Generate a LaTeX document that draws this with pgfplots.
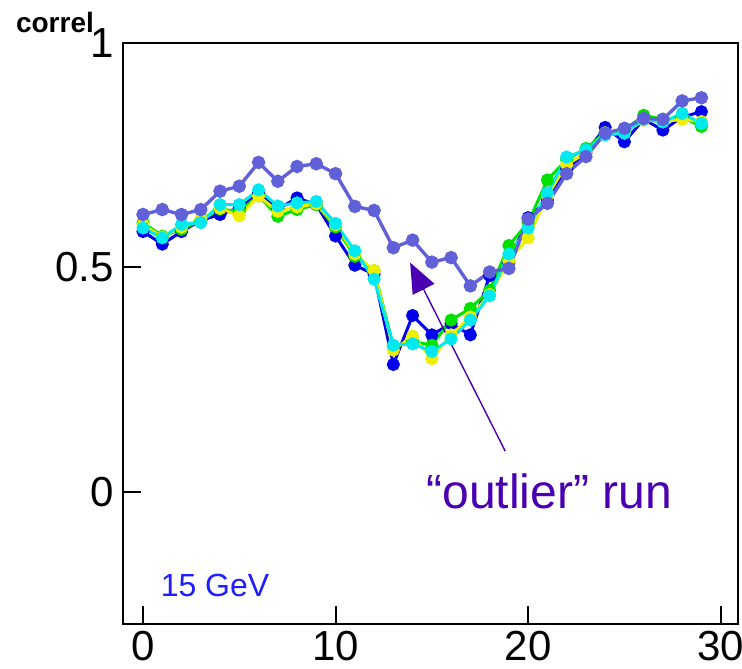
\documentclass[border=0pt]{standalone}
\usepackage{fontspec}
\setmainfont{Liberation Sans}
\usepackage{pgfplots}
\pgfplotsset{compat=1.18}
\usetikzlibrary{arrows.meta}
\definecolor{cblue}{RGB}{0,0,235}
\definecolor{cgreen}{RGB}{0,225,0}
\definecolor{cyellow}{RGB}{238,238,0}
\definecolor{ccyan}{RGB}{0,232,240}
\definecolor{cout}{RGB}{96,96,216}
\definecolor{cpurple}{RGB}{74,0,178}
\definecolor{cgev}{RGB}{30,30,255}
\begin{document}
\begin{tikzpicture}
\useasboundingbox (-61.5pt,-22pt) rectangle (309.5pt,312pt);
\begin{axis}[
  at={(0,0)}, anchor=south west,
  scale only axis, width=307.5pt, height=290.5pt,
  xmin=-1.04, xmax=30.9, ymin=-0.294, ymax=1,
  xtick={0,10,20,30}, ytick={0,0.5,1},
  yticklabels={0,0.5,1},
  tick pos=left, tick align=inside,
  major tick length=9pt,
  minor tick num=0,
  axis line style={line width=1pt},
  every tick/.style={line width=1pt, black},
  /pgf/number format/assume math mode=true,
  ticklabel style={font=\fontsize{21}{21}\selectfont},
  yticklabel style={xshift=-1pt},
  xticklabel style={yshift=0pt},
  clip=false,
  every axis plot/.append style={line width=1.5pt, mark=*, mark size=2.5pt},
]
\addplot[color=cblue, mark options={fill=cblue}] coordinates {
(0,0.580)(1,0.552)(2,0.580)(3,0.605)(4,0.618)(5,0.633)(6,0.665)(7,0.630)(8,0.655)(9,0.640)
(10,0.570)(11,0.505)(12,0.485)(13,0.284)(14,0.393)(15,0.350)(16,0.375)(17,0.350)(18,0.482)(19,0.511)
(20,0.611)(21,0.650)(22,0.720)(23,0.755)(24,0.812)(25,0.780)(26,0.830)(27,0.806)(28,0.835)(29,0.847)};
\addplot[color=cgreen, mark options={fill=cgreen}] coordinates {
(0,0.600)(1,0.570)(2,0.585)(3,0.605)(4,0.630)(5,0.625)(6,0.660)(7,0.614)(8,0.629)(9,0.640)
(10,0.590)(11,0.525)(12,0.493)(13,0.325)(14,0.335)(15,0.327)(16,0.383)(17,0.409)(18,0.449)(19,0.549)
(20,0.600)(21,0.695)(22,0.740)(23,0.765)(24,0.800)(25,0.805)(26,0.839)(27,0.830)(28,0.835)(29,0.814)};
\addplot[color=cyellow, mark options={fill=cyellow}] coordinates {
(0,0.595)(1,0.568)(2,0.590)(3,0.608)(4,0.632)(5,0.615)(6,0.659)(7,0.625)(8,0.635)(9,0.642)
(10,0.595)(11,0.530)(12,0.493)(13,0.316)(14,0.347)(15,0.297)(16,0.350)(17,0.390)(18,0.440)(19,0.515)
(20,0.566)(21,0.660)(22,0.729)(23,0.755)(24,0.800)(25,0.800)(26,0.828)(27,0.825)(28,0.830)(29,0.825)};
\addplot[color=ccyan, mark options={fill=ccyan}] coordinates {
(0,0.588)(1,0.566)(2,0.596)(3,0.600)(4,0.640)(5,0.640)(6,0.673)(7,0.637)(8,0.644)(9,0.647)
(10,0.598)(11,0.537)(12,0.474)(13,0.327)(14,0.330)(15,0.313)(16,0.341)(17,0.383)(18,0.437)(19,0.530)
(20,0.588)(21,0.666)(22,0.746)(23,0.762)(24,0.795)(25,0.799)(26,0.830)(27,0.824)(28,0.843)(29,0.821)};
\addplot[color=cout, mark options={fill=cout}, line width=1.7pt] coordinates {
(0,0.618)(1,0.629)(2,0.618)(3,0.629)(4,0.670)(5,0.681)(6,0.734)(7,0.692)(8,0.725)(9,0.731)
(10,0.709)(11,0.636)(12,0.627)(13,0.544)(14,0.561)(15,0.512)(16,0.522)(17,0.459)(18,0.490)(19,0.498)
(20,0.608)(21,0.643)(22,0.709)(23,0.747)(24,0.799)(25,0.810)(26,0.832)(27,0.830)(28,0.871)(29,0.878)};
\draw[cpurple, line width=0.7pt, -{Triangle[length=15pt,width=12pt]}] (axis cs:18.81,0.091) -- (axis cs:13.87,0.511);
\node[cpurple, font=\fontsize{24}{24}\selectfont] at (axis cs:21.09,0.002) {“outlier” run};
\node[cgev, font=\fontsize{16}{16}\selectfont] at (axis cs:3.74,-0.208) {15 GeV};
\node[font=\fontsize{14}{14}\selectfont\bfseries] at (rel axis cs:-0.1106,1.036) {correl};
\end{axis}
\end{tikzpicture}
\end{document}
